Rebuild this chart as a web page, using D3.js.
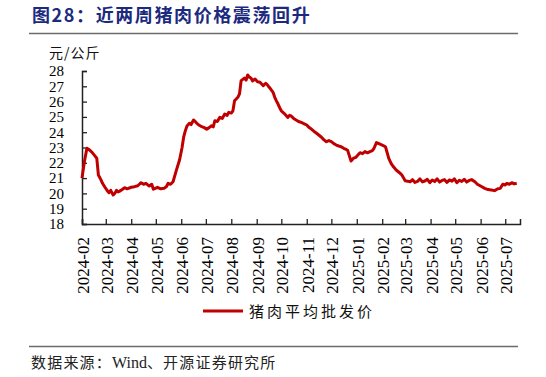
<!DOCTYPE html>
<html><head><meta charset="utf-8">
<script src="https://cdn.jsdelivr.net/npm/d3@7"></script>
<style>
body{margin:0;background:#fff;}
svg{display:block;}
</style></head>
<body>
<svg id="c" width="546" height="377"></svg>
<script>
const titleText = "图28：近两周猪肉价格震荡回升";
const unitText = "元/公斤";
const seriesName = "猪肉平均批发价";
const sourceParts = ["数据来源：", "Wind", "、开源证券研究所"];
const yTicks = [18,19,20,21,22,23,24,25,26,27,28];
const xTickLabels = ["2024-02","2024-03","2024-04","2024-05","2024-06","2024-07","2024-08","2024-09","2024-10","2024-11","2024-12","2025-01","2025-02","2025-03","2025-04","2025-05","2025-06","2025-07"];
const dates = [
"2024-02-01","2024-02-04","2024-02-07","2024-02-10","2024-02-13","2024-02-16","2024-02-19","2024-02-21","2024-02-24","2024-02-26","2024-02-29","2024-03-03","2024-03-05","2024-03-07","2024-03-10","2024-03-12","2024-03-14","2024-03-16","2024-03-18","2024-03-21","2024-03-24","2024-03-27","2024-04-01","2024-04-05","2024-04-09","2024-04-13","2024-04-16","2024-04-19","2024-04-23","2024-04-26","2024-04-28","2024-05-01","2024-05-03","2024-05-07","2024-05-11","2024-05-14","2024-05-16","2024-05-19","2024-05-22","2024-05-26","2024-05-30","2024-06-02","2024-06-04","2024-06-06","2024-06-08","2024-06-11","2024-06-13","2024-06-16","2024-06-18","2024-06-20","2024-06-23","2024-06-26","2024-06-29","2024-07-02","2024-07-05","2024-07-08","2024-07-10","2024-07-12","2024-07-15","2024-07-18","2024-07-21","2024-07-24","2024-07-27","2024-07-29","2024-08-01","2024-08-03","2024-08-05","2024-08-09","2024-08-11","2024-08-13","2024-08-15","2024-08-17","2024-08-19","2024-08-21","2024-08-23","2024-08-25","2024-08-27","2024-08-30","2024-09-02","2024-09-05","2024-09-07","2024-09-09","2024-09-12","2024-09-14","2024-09-16","2024-09-18","2024-09-21","2024-09-23","2024-09-25","2024-09-27","2024-09-29","2024-10-01","2024-10-04","2024-10-06","2024-10-09","2024-10-11","2024-10-13","2024-10-16","2024-10-19","2024-10-22","2024-10-26","2024-10-29","2024-11-01","2024-11-04","2024-11-07","2024-11-10","2024-11-13","2024-11-16","2024-11-19","2024-11-22","2024-11-25","2024-11-28","2024-12-01","2024-12-04","2024-12-07","2024-12-10","2024-12-13","2024-12-16","2024-12-19","2024-12-21","2024-12-22","2024-12-25","2024-12-28","2024-12-31","2025-01-03","2025-01-05","2025-01-08","2025-01-11","2025-01-14","2025-01-17","2025-01-20","2025-01-22","2025-01-25","2025-01-28","2025-02-01","2025-02-05","2025-02-09","2025-02-12","2025-02-14","2025-02-18","2025-02-21","2025-02-23","2025-02-25","2025-03-01","2025-03-04","2025-03-07","2025-03-10","2025-03-13","2025-03-16","2025-03-19","2025-03-22","2025-03-25","2025-03-28","2025-03-31","2025-04-03","2025-04-06","2025-04-09","2025-04-12","2025-04-15","2025-04-18","2025-04-21","2025-04-24","2025-04-27","2025-04-30","2025-05-03","2025-05-06","2025-05-09","2025-05-12","2025-05-15","2025-05-18","2025-05-21","2025-05-25","2025-05-28","2025-06-02","2025-06-06","2025-06-10","2025-06-14","2025-06-18","2025-06-22","2025-06-25","2025-06-28","2025-07-01","2025-07-03","2025-07-06","2025-07-09","2025-07-12","2025-07-15","2025-07-17"];
const prices = [
21.0,22.1,22.95,22.85,22.7,22.5,22.3,21.2,20.9,20.66,20.4,20.16,20.05,20.2,19.9,20.0,20.2,20.1,20.15,20.25,20.37,20.3,20.4,20.44,20.5,20.7,20.6,20.66,20.48,20.6,20.27,20.35,20.4,20.3,20.33,20.45,20.66,20.6,20.76,21.5,22.2,23.0,23.7,24.1,24.4,24.58,24.5,24.8,24.7,24.58,24.45,24.36,24.3,24.2,24.3,24.42,24.35,24.75,24.7,24.97,24.9,25.19,25.1,25.3,25.25,25.4,26.06,26.28,26.5,27.37,27.45,27.54,27.4,27.74,27.6,27.54,27.35,27.48,27.3,27.26,27.15,27.04,27.2,27.1,26.95,26.82,26.6,26.28,26.05,25.84,25.6,25.4,25.25,25.14,24.97,25.1,25.06,24.9,24.8,24.7,24.62,24.55,24.47,24.3,24.19,24.05,23.93,23.8,23.67,23.5,23.38,23.45,23.38,23.25,23.16,23.1,23.05,22.95,22.88,22.8,22.62,22.12,22.3,22.36,22.55,22.66,22.6,22.73,22.65,22.73,22.8,22.95,23.32,23.25,23.16,23.05,22.29,21.95,21.79,21.53,21.4,21.31,21.2,20.83,20.8,20.76,20.9,20.72,20.78,20.95,20.75,20.81,20.92,20.7,20.88,20.78,20.95,20.74,20.85,20.9,20.72,20.88,20.8,20.95,20.7,20.86,20.78,20.92,20.74,20.85,20.9,20.76,20.6,20.45,20.33,20.25,20.22,20.18,20.3,20.33,20.6,20.55,20.66,20.6,20.7,20.62,20.66];

const svg = d3.select("#c");
const serif = "'Liberation Serif','Times New Roman',serif";
const cjk = "'Noto Sans CJK SC','Noto Sans',sans-serif";

// title & rules
svg.append("text").attr("x",32).attr("y",22).attr("fill","#1B2A7E")
  .attr("font-family",cjk).attr("font-weight","bold").attr("font-size",18)
  .attr("letter-spacing",1.6).text(titleText);
svg.append("line").attr("x1",29).attr("x2",518).attr("y1",33.5).attr("y2",33.5)
  .attr("stroke","#6b6b6b").attr("stroke-width",1.5);
svg.append("line").attr("x1",29).attr("x2",518).attr("y1",346.5).attr("y2",346.5)
  .attr("stroke","#6b6b6b").attr("stroke-width",1.5);
const src = svg.append("text").attr("x",31).attr("y",368).attr("fill","#222")
  .attr("font-size",15).attr("letter-spacing",1.2);
src.append("tspan").attr("font-family",cjk).text(sourceParts[0]);
src.append("tspan").attr("font-family",serif).attr("font-size",16).attr("letter-spacing",0).text(sourceParts[1]);
src.append("tspan").attr("font-family",cjk).text(sourceParts[2]);

const parse = d3.timeParse("%Y-%m-%d");
const data = dates.map((d,i)=>({date:parse(d), v:prices[i]}));

const x = d3.scaleTime().domain([parse("2024-02-01"), parse("2025-07-19")]).range([82,520]);
const y = d3.scaleLinear().domain([18,28]).range([224,71]);

// y axis
const yAxis = d3.axisLeft(y).tickValues(yTicks).tickSize(-5).tickPadding(18).tickFormat(d3.format("d"));
const gy = svg.append("g").attr("transform","translate(82,0)").call(yAxis);
gy.select(".domain").attr("stroke","#222").attr("stroke-width",1.5);
gy.selectAll(".tick line").attr("stroke","#222").attr("stroke-width",1.3);
gy.selectAll("text").attr("font-family",serif).attr("font-size",15).attr("fill","#000");

// x axis
const xTickDates = xTickLabels.map(s=>parse(s+"-01"));
const xAxis = d3.axisBottom(x).tickValues(xTickDates).tickSize(-5).tickPadding(0)
  .tickFormat(d3.timeFormat("%Y-%m"));
const gx = svg.append("g").attr("transform","translate(0,224)").call(xAxis);
gx.select(".domain").attr("stroke","#222").attr("stroke-width",1.5);
gx.selectAll(".tick line").attr("stroke","#222").attr("stroke-width",1.3);
gx.selectAll("text").attr("font-family",serif).attr("font-size",17).attr("fill","#000")
  .attr("text-anchor","end").attr("transform","rotate(-90)").attr("x",-13).attr("y",0).attr("dy","0.38em");

// unit
svg.append("text").attr("x",49).attr("y",58).attr("font-family",cjk).attr("font-size",14)
  .attr("fill","#111").attr("letter-spacing",1).text(unitText);

// line
const line = d3.line().x(d=>x(d.date)).y(d=>y(d.v));
svg.append("path").datum(data).attr("d",line).attr("fill","none")
  .attr("stroke","#C00000").attr("stroke-width",3).attr("stroke-linejoin","round");

// legend
svg.append("line").attr("x1",203).attr("x2",243).attr("y1",311).attr("y2",311)
  .attr("stroke","#C00000").attr("stroke-width",3);
svg.append("text").attr("x",249).attr("y",316.5).attr("font-family",cjk).attr("font-size",15)
  .attr("letter-spacing",3).attr("fill","#111").text(seriesName);
</script>
</body></html>
